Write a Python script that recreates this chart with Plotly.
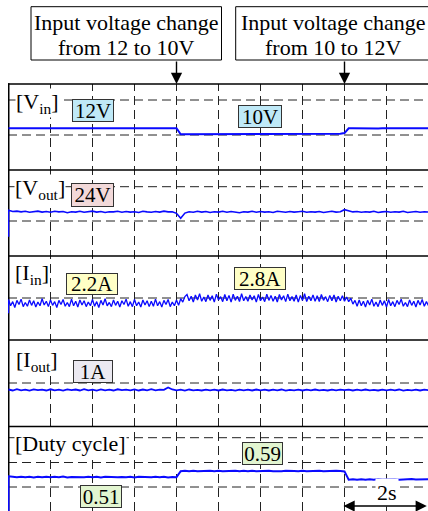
import plotly.graph_objects as go

# ---------------- data ----------------
TIME_S = [0.0, 0.1, 0.2, 0.3, 0.4, 0.5, 0.6, 0.7, 0.8, 0.9,
          1.0, 1.1, 1.2, 1.3, 1.4, 1.5, 1.6, 1.7, 1.8, 1.9,
          2.0, 2.1, 2.2, 2.3, 2.4, 2.5, 2.6, 2.7, 2.8, 2.9,
          3.0, 3.1, 3.2, 3.3, 3.4, 3.5, 3.6, 3.7, 3.8, 3.9,
          4.0, 4.1, 4.2, 4.3, 4.4, 4.5, 4.6, 4.7, 4.8, 4.9,
          5.0, 5.1, 5.2, 5.3, 5.4, 5.5, 5.6, 5.7, 5.8, 5.9,
          6.0, 6.1, 6.2, 6.3, 6.4, 6.5, 6.6, 6.7, 6.8, 6.9,
          7.0, 7.1, 7.2, 7.3, 7.4, 7.5, 7.6, 7.7, 7.8, 7.9,
          8.0, 8.1, 8.2, 8.3, 8.4, 8.5, 8.6, 8.7, 8.8, 8.9,
          9.0, 9.1, 9.2, 9.3, 9.4, 9.5, 9.6, 9.7, 9.8, 9.9, 10.0]

# finer time base for the noisy input-current trace
TIME_FINE_S = [0.0, 0.05, 0.1, 0.15, 0.2, 0.25, 0.3, 0.35, 0.4, 0.45,
               0.5, 0.55, 0.6, 0.65, 0.7, 0.75, 0.8, 0.85, 0.9, 0.95,
               1.0, 1.05, 1.1, 1.15, 1.2, 1.25, 1.3, 1.35, 1.4, 1.45,
               1.5, 1.55, 1.6, 1.65, 1.7, 1.75, 1.8, 1.85, 1.9, 1.95,
               2.0, 2.05, 2.1, 2.15, 2.2, 2.25, 2.3, 2.35, 2.4, 2.45,
               2.5, 2.55, 2.6, 2.65, 2.7, 2.75, 2.8, 2.85, 2.9, 2.95,
               3.0, 3.05, 3.1, 3.15, 3.2, 3.25, 3.3, 3.35, 3.4, 3.45,
               3.5, 3.55, 3.6, 3.65, 3.7, 3.75, 3.8, 3.85, 3.9, 3.95,
               4.0, 4.05, 4.1, 4.15, 4.2, 4.25, 4.3, 4.35, 4.4, 4.45,
               4.5, 4.55, 4.6, 4.65, 4.7, 4.75, 4.8, 4.85, 4.9, 4.95,
               5.0, 5.05, 5.1, 5.15, 5.2, 5.25, 5.3, 5.35, 5.4, 5.45,
               5.5, 5.55, 5.6, 5.65, 5.7, 5.75, 5.8, 5.85, 5.9, 5.95,
               6.0, 6.05, 6.1, 6.15, 6.2, 6.25, 6.3, 6.35, 6.4, 6.45,
               6.5, 6.55, 6.6, 6.65, 6.7, 6.75, 6.8, 6.85, 6.9, 6.95,
               7.0, 7.05, 7.1, 7.15, 7.2, 7.25, 7.3, 7.35, 7.4, 7.45,
               7.5, 7.55, 7.6, 7.65, 7.7, 7.75, 7.8, 7.85, 7.9, 7.95,
               8.0, 8.05, 8.1, 8.15, 8.2, 8.25, 8.3, 8.35, 8.4, 8.45,
               8.5, 8.55, 8.6, 8.65, 8.7, 8.75, 8.8, 8.85, 8.9, 8.95,
               9.0, 9.05, 9.1, 9.15, 9.2, 9.25, 9.3, 9.35, 9.4, 9.45,
               9.5, 9.55, 9.6, 9.65, 9.7, 9.75, 9.8, 9.85, 9.9, 9.95, 10.0]

VIN_V = [12.0, 12.0, 12.05, 12.0, 11.95, 12.0, 12.0, 12.05, 12.0, 12.0,
         12.0, 11.95, 12.0, 12.0, 12.05, 12.0, 12.0, 12.0, 11.95, 12.0,
         12.0, 12.05, 12.0, 12.0, 12.0, 11.95, 12.0, 12.05, 12.0, 12.0,
         12.0, 12.0, 11.95, 12.0, 12.05, 12.0, 12.0, 12.0, 11.95, 12.0,
         12.0, 10.0, 10.0, 10.05, 9.95, 10.0, 10.0, 10.05, 10.0, 9.95,
         10.0, 10.0, 10.05, 10.0, 10.0, 9.95, 10.0, 10.05, 10.0, 10.0,
         10.0, 9.95, 10.0, 10.0, 10.05, 10.0, 10.0, 10.0, 9.95, 10.0,
         10.05, 10.0, 10.0, 10.0, 9.95, 10.0, 10.05, 10.0, 10.1, 10.2,
         10.4, 12.0, 12.0, 11.95, 12.0, 12.05, 12.0, 12.0, 11.95, 12.0,
         12.0, 12.05, 12.0, 12.0, 11.95, 12.0, 12.0, 12.05, 12.0, 12.0, 12.0]

VOUT_V = [25.0, 24.4, 24.6, 24.2, 24.5, 24.0, 24.3, 24.6, 24.1, 24.4,
          24.0, 24.5, 24.2, 24.4, 23.8, 24.3, 24.1, 24.5, 24.0, 24.3,
          24.6, 24.1, 24.4, 23.9, 24.3, 24.2, 24.5, 24.0, 24.4, 24.1,
          24.3, 23.9, 24.5, 24.2, 24.0, 24.4, 24.1, 24.6, 24.2, 24.3,
          23.5, 21.0, 23.6, 24.3, 24.0, 24.5, 24.1, 24.4, 23.9, 24.3,
          24.1, 24.5, 24.0, 24.4, 24.2, 23.8, 24.3, 24.1, 24.5, 24.0,
          24.4, 24.1, 24.3, 23.9, 24.5, 24.2, 24.0, 24.4, 24.1, 24.3,
          24.5, 24.0, 24.3, 24.1, 24.4, 23.9, 24.2, 24.5, 24.1, 24.3,
          25.3, 24.6, 24.2, 24.4, 24.0, 24.3, 24.1, 24.5, 23.9, 24.2,
          24.4, 24.0, 24.3, 24.1, 24.5, 23.9, 24.2, 24.4, 24.0, 24.3, 24.1]

IIN_A = [2.65, 1.9, 2.4, 1.7, 2.55, 2.05, 2.7, 1.8, 2.3, 1.85,
         2.6, 1.95, 2.5, 1.75, 2.35, 1.9, 2.75, 2.0, 2.45, 1.8,
         2.6, 1.95, 2.4, 1.7, 2.55, 2.05, 2.65, 1.85, 2.3, 1.8,
         2.7, 1.9, 2.45, 1.75, 2.6, 2.0, 2.5, 1.8, 2.35, 1.9,
         2.65, 1.85, 2.4, 1.7, 2.55, 2.0, 2.75, 1.9, 2.3, 1.8,
         2.6, 1.95, 2.45, 1.75, 2.5, 2.05, 2.7, 1.85, 2.4, 1.8,
         2.65, 1.9, 2.35, 1.75, 2.6, 2.0, 2.5, 1.8, 2.45, 1.85,
         2.7, 1.9, 2.4, 1.75, 2.55, 2.05, 2.65, 1.8, 2.35, 1.9,
         2.6, 1.95,
         2.75, 2.35, 3.0,
         3.25, 2.5, 3.05, 2.35, 3.2, 2.6, 3.35, 2.45, 2.95, 2.4,
         3.2, 2.55, 3.1, 2.35, 3.3, 2.6, 3.0, 2.4, 3.25, 2.5,
         3.15, 2.35, 3.3, 2.55, 3.05, 2.4, 3.35, 2.5, 3.0, 2.45,
         3.2, 2.6, 3.1, 2.35, 3.25, 2.5, 2.95, 2.4, 3.3, 2.55,
         3.15, 2.45, 3.05, 2.35, 3.25, 2.6, 3.1, 2.4, 3.3, 2.5,
         3.0, 2.45, 3.2, 2.35, 3.15, 2.55, 3.35, 2.4, 3.05, 2.5,
         3.2, 2.45, 3.1, 2.4, 3.25, 2.55, 3.0, 2.4, 3.15, 2.5,
         3.2, 2.35, 3.05, 2.5, 3.1, 2.45,
         2.95, 2.4, 2.8, 2.1, 2.55,
         1.85, 2.6, 1.9, 2.45, 1.75, 2.55, 2.0, 2.7, 1.85, 2.35,
         1.8, 2.6, 1.95, 2.5, 1.75, 2.65, 1.9, 2.4, 1.8, 2.55,
         2.05, 2.7, 1.85, 2.3, 1.8, 2.6, 1.95, 2.45, 1.75, 2.55,
         2.0, 2.65, 1.85, 2.4, 1.9]

IOUT_A = [1.05, 0.95, 1.08, 0.97, 1.03, 0.94, 1.06, 0.98, 1.04, 0.95,
          1.07, 0.96, 1.03, 0.94, 1.06, 0.98, 1.05, 0.95, 1.08, 0.97,
          1.04, 0.94, 1.06, 0.97, 1.03, 0.95, 1.07, 0.98, 1.04, 0.96,
          1.06, 0.95, 1.05, 0.97, 1.08, 0.96, 1.04, 1.02, 1.25, 1.05,
          0.97, 1.03, 0.94, 1.05, 0.96, 1.02, 0.95, 1.04, 0.97, 1.03,
          0.95, 1.05, 0.97, 1.02, 0.94, 1.04, 0.96, 1.03, 0.95, 1.05,
          0.97, 1.04, 0.95, 1.03, 0.96, 1.05, 0.94, 1.02, 0.97, 1.04,
          0.95, 1.03, 0.96, 1.05, 0.97, 1.02, 0.95, 1.04, 0.96, 1.03,
          0.98, 1.04, 0.95, 1.03, 0.97, 1.05, 0.96, 1.02, 0.95, 1.04,
          0.97, 1.03, 0.96, 1.05, 0.94, 1.02, 0.97, 1.04, 0.95, 1.03, 0.98]

DUTY = [0.52, 0.513, 0.507, 0.514, 0.506, 0.512, 0.505, 0.513, 0.508, 0.514,
        0.506, 0.512, 0.507, 0.515, 0.505, 0.511, 0.508, 0.513, 0.506, 0.512,
        0.507, 0.514, 0.505, 0.512, 0.508, 0.513, 0.506, 0.511, 0.507, 0.514,
        0.505, 0.512, 0.508, 0.513, 0.506, 0.512, 0.507, 0.514, 0.505, 0.511,
        0.508, 0.588, 0.594, 0.587, 0.593, 0.586, 0.592, 0.588, 0.594, 0.587,
        0.593, 0.586, 0.591, 0.588, 0.594, 0.587, 0.592, 0.586, 0.593, 0.588,
        0.591, 0.587, 0.594, 0.586, 0.592, 0.588, 0.593, 0.587, 0.591, 0.586,
        0.594, 0.588, 0.592, 0.587, 0.593, 0.586, 0.591, 0.588, 0.594, 0.589,
        0.585, 0.474, 0.479, 0.473, 0.481, 0.475, 0.480, 0.474, 0.482, 0.476,
        0.480, 0.474, 0.481, 0.475, 0.479, 0.473, 0.482, 0.476, 0.480, 0.474, 0.481]

# start-up transient sample at t = 0 (vertical edge at the left border)
START_T = [0.0]
VOUT_START = [11.8]
IIN_START = [1.0]
DUTY_START = [0.0]

SECTION_LABELS = ["[V<sub>in</sub>]", "[V<sub>out</sub>]", "[I<sub>in</sub>]",
                  "[I<sub>out</sub>]", "[Duty cycle]"]
VALUE_LABELS = ["12V", "10V", "24V", "2.2A", "2.8A", "1A", "0.59", "0.51"]
EVENT_LINE1 = ["Input voltage change", "Input voltage change"]
EVENT_LINE2 = ["from 12 to 10V", "from 10 to 12V"]
EVENT_TIMES = [4, 8]
SCALE_LABEL = "2s"

# ---------------- layout helpers ----------------
W, H = 428, 511
ML = 8
PW = W - ML
FONT = "Liberation Serif, Times New Roman, Times, serif"
BLUE = "#0a0aff"


def py(p):
    return 1 - p / H


def pxp(p):
    return (p - ML) / PW


fig = go.Figure()

fig.add_trace(go.Scatter(x=TIME_S, y=VIN_V, mode="lines", yaxis="y",
                         line=dict(color=BLUE, width=2)))
fig.add_trace(go.Scatter(x=START_T + TIME_S, y=VOUT_START + VOUT_V, mode="lines",
                         yaxis="y2", line=dict(color=BLUE, width=1.6)))
fig.add_trace(go.Scatter(x=START_T + TIME_FINE_S, y=IIN_START + IIN_A, mode="lines",
                         yaxis="y3", line=dict(color=BLUE, width=1.3)))
fig.add_trace(go.Scatter(x=TIME_S, y=IOUT_A, mode="lines", yaxis="y4",
                         line=dict(color=BLUE, width=1.8)))
fig.add_trace(go.Scatter(x=START_T + TIME_S, y=DUTY_START + DUTY, mode="lines",
                         yaxis="y5", line=dict(color=BLUE, width=2)))

x0 = -0.5 / 42
ax_common = dict(visible=False, fixedrange=True)
fig.update_layout(
    width=W, height=H,
    margin=dict(l=ML, r=0, t=0, b=0),
    paper_bgcolor="white", plot_bgcolor="rgba(0,0,0,0)",
    showlegend=False,
    font=dict(family=FONT),
    xaxis=dict(domain=[0, 1], range=[x0, 10 + x0], anchor="y5", **ax_common),
    yaxis=dict(domain=[py(170), py(84)], range=[-1.9, 26.77], **ax_common),
    yaxis2=dict(domain=[py(256), py(170)], range=[2.15, 45.15], **ax_common),
    yaxis3=dict(domain=[py(340), py(256)], range=[-2.206, 7.878], **ax_common),
    yaxis4=dict(domain=[py(426.5), py(340)], range=[-2.65, 6.0], **ax_common),
    yaxis5=dict(domain=[0, py(426.5)], range=[0.057, 1.183], **ax_common),
)

shapes = []
# vertical dashed grid (1 s / div)
for k in range(1, 10):
    shapes.append(dict(type="line", xref="x", yref="paper", x0=k, x1=k,
                       y0=0, y1=py(84), layer="below",
                       line=dict(color="#222222", width=1, dash="9px,5px")))
# horizontal dashed grid inside each panel
for p in [100, 135, 186.7, 221, 298, 383, 437.7, 462.5, 487]:
    shapes.append(dict(type="line", xref="paper", yref="paper", x0=0, x1=1,
                       y0=py(p), y1=py(p), layer="below",
                       line=dict(color="#222222", width=1, dash="9px,5px")))
# solid panel separators
for p in [84, 170, 256, 340, 426.5]:
    shapes.append(dict(type="line", xref="paper", yref="paper", x0=0, x1=1,
                       y0=py(p), y1=py(p), layer="below",
                       line=dict(color="black", width=1.6)))
# left border
shapes.append(dict(type="line", xref="x", yref="paper", x0=0, x1=0,
                   y0=0, y1=py(83.3), layer="below",
                   line=dict(color="black", width=2)))
# event boxes at the top
for bx0, bx1 in [(31, 221.5), (235.7, 445)]:
    shapes.append(dict(type="rect", xref="paper", yref="paper",
                       x0=pxp(bx0), x1=pxp(bx1), y0=py(60), y1=py(6.7),
                       line=dict(color="black", width=1), fillcolor="white"))
fig.update_layout(shapes=shapes)

ann = []
# event texts
for cx, l1, l2 in zip([126, 333], EVENT_LINE1, EVENT_LINE2):
    ann.append(dict(xref="paper", yref="paper", x=pxp(cx), y=py(22.6),
                    text=l1, showarrow=False, xanchor="center", yanchor="middle",
                    font=dict(family=FONT, size=22, color="black")))
    ann.append(dict(xref="paper", yref="paper", x=pxp(cx), y=py(47.6),
                    text=l2, showarrow=False, xanchor="center", yanchor="middle",
                    font=dict(family=FONT, size=22, color="black")))
# event arrows
for t in EVENT_TIMES:
    ann.append(dict(xref="x", yref="paper", x=t, y=py(84), ax=0, ay=-24,
                    text="", showarrow=True, arrowhead=2, arrowsize=1.6,
                    arrowwidth=1.4, arrowcolor="black", standoff=0))
# panel labels
for lab, (lx, ly) in zip(SECTION_LABELS, [(15, 102.6), (14, 189.3), (14, 274.3),
                                          (15, 361), (14, 443.3)]):
    ann.append(dict(xref="paper", yref="paper", x=pxp(lx), y=py(ly), text=lab,
                    showarrow=False, xanchor="left", yanchor="middle",
                    bgcolor="white", borderpad=0,
                    font=dict(family=FONT, size=22, color="black")))
# value boxes
boxes = [(92.5, 110.3, 42, 23, "#bfe9f7"),
         (259.5, 116, 44, 23, "#bfe9f7"),
         (92, 195, 43, 24, "#f2d9d9"),
         (92, 284, 52, 22, "#ffffc6"),
         (259.5, 278.3, 52, 23, "#ffffc6"),
         (92.7, 371.7, 40, 23, "#ebe9f1"),
         (262, 453.3, 41, 23, "#e2f5d0"),
         (100.5, 496.3, 42, 23, "#e2f5d0")]
for lab, (cx, cy, w, h, col) in zip(VALUE_LABELS, boxes):
    ann.append(dict(xref="paper", yref="paper", x=pxp(cx), y=py(cy), text=lab,
                    showarrow=False, xanchor="center", yanchor="middle",
                    width=w - 2, height=h - 2, bgcolor=col,
                    bordercolor="#333333", borderwidth=1, borderpad=0,
                    font=dict(family=FONT, size=21, color="black")))
# time-scale marker
ann.append(dict(xref="x", yref="paper", x=9, y=py(492.5), text=SCALE_LABEL,
                showarrow=False, xanchor="center", yanchor="middle",
                bgcolor="white", borderpad=1,
                font=dict(family=FONT, size=22, color="black")))
ann.append(dict(xref="x", yref="paper", x=9.96, y=py(506), axref="x", ax=7.94,
                ayref="pixel", ay=0, text="", showarrow=True,
                arrowhead=2, startarrowhead=2, arrowside="end+start",
                arrowsize=1.6, startarrowsize=1.6, arrowwidth=1.4,
                arrowcolor="black", standoff=0, startstandoff=0))
fig.update_layout(annotations=ann)

fig.write_html(
    "out.html",
    config={"displayModeBar": False},
    post_script="document.body.style.margin='0';document.body.style.overflow='hidden';",
)
